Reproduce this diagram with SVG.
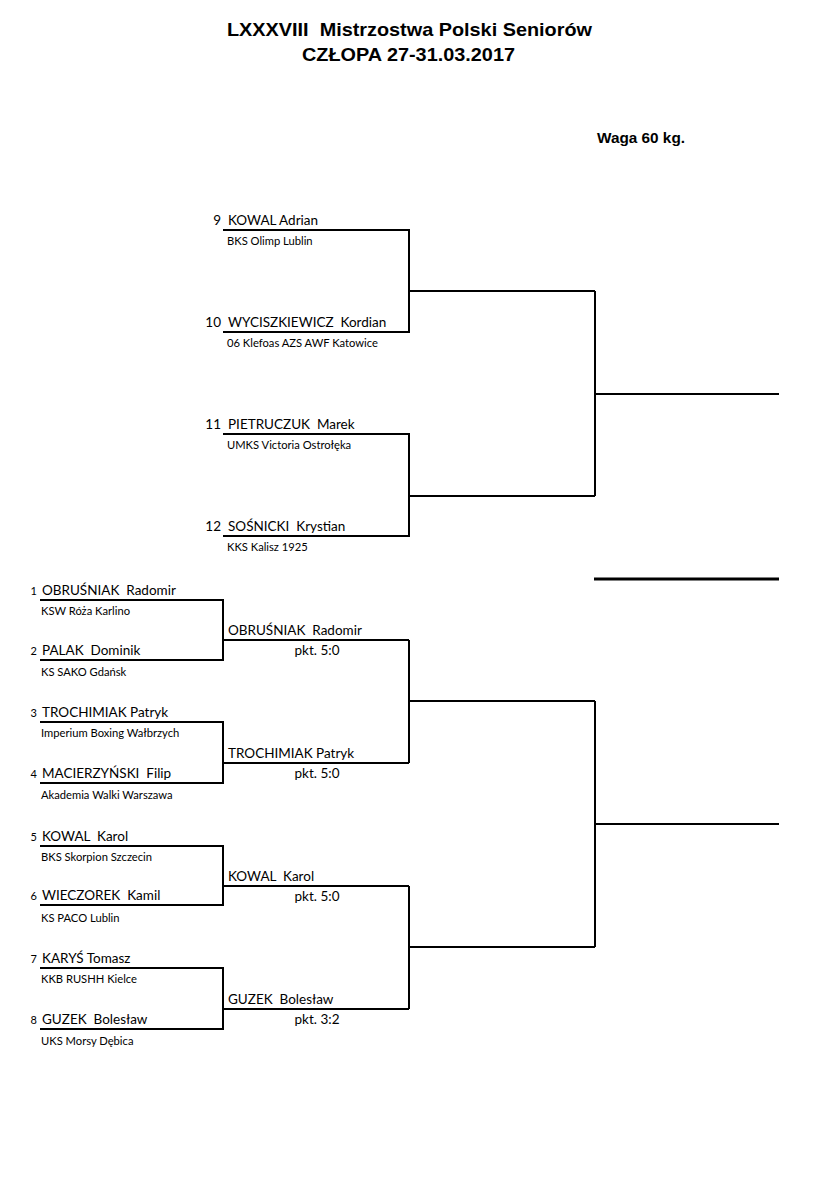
<svg xmlns="http://www.w3.org/2000/svg" width="840" height="1188" viewBox="0 0 840 1188" xml:space="preserve">
<style>
text{white-space:pre}
.t{font-family:"Liberation Sans",Arial,sans-serif;font-weight:bold;fill:#000}
.n{font-family:Lato,"Noto Sans",sans-serif;font-size:13.5px;fill:#000}
.c{font-family:Lato,"Noto Sans",sans-serif;font-size:11.2px;fill:#000}
.s{font-family:Lato,"Noto Sans",sans-serif;font-size:11px;fill:#000}
.p{font-family:Lato,"Noto Sans",sans-serif;font-size:13.5px;fill:#000;text-anchor:middle}
.l{fill:none;stroke:#000;stroke-width:2}
</style>
<rect width="840" height="1188" fill="#fff"/>
<g id="title">
<text class="t" x="227" y="36" font-size="18.5" textLength="365" lengthAdjust="spacingAndGlyphs">LXXXVIII  Mistrzostwa Polski Seniorów</text>
<text class="t" x="302" y="61" font-size="18.5" textLength="213" lengthAdjust="spacingAndGlyphs">CZŁOPA 27-31.03.2017</text>
<text class="t" x="597" y="143" font-size="15" textLength="88" lengthAdjust="spacingAndGlyphs">Waga 60 kg.</text>
</g>
<g id="connectors">
<path class="l" d="M223 230H409V332H223M409 291H595M223 434H409V536H223M409 496H595M595 291V496M595 394H779"/>
<path d="M594 579H779" stroke="#000" stroke-width="3"/>
<path class="l" d="M40 600H223V660H40M223 640H409M40 722H223V783H40M223 763H409M409 640V763M409 701H595"/>
<path class="l" d="M40 846H223V905H40M223 886H409M40 968H223V1029H40M223 1009H409M409 886V1009M409 947H595"/>
<path class="l" d="M595 701V947M595 824H779"/>
</g>
<g id="p9"><text class="n" x="221" y="225" text-anchor="end">9</text><text class="n" x="228" y="225">KOWAL Adrian</text><text class="c" x="227" y="245">BKS Olimp Lublin</text></g>
<g id="p10"><text class="n" x="221" y="327" text-anchor="end">10</text><text class="n" x="228" y="327">WYCISZKIEWICZ  Kordian</text><text class="c" x="227" y="347">06 Klefoas AZS AWF Katowice</text></g>
<g id="p11"><text class="n" x="221" y="429" text-anchor="end">11</text><text class="n" x="228" y="429">PIETRUCZUK  Marek</text><text class="c" x="227" y="449">UMKS Victoria Ostrołęka</text></g>
<g id="p12"><text class="n" x="221" y="531" text-anchor="end">12</text><text class="n" x="228" y="531">SOŚNICKI  Krystian</text><text class="c" x="227" y="551">KKS Kalisz 1925</text></g>
<g id="p1"><text class="s" x="37" y="595" text-anchor="end">1</text><text class="n" x="42" y="595">OBRUŚNIAK  Radomir</text><text class="c" x="41" y="615">KSW Róża Karlino</text></g>
<g id="p2"><text class="s" x="37" y="655" text-anchor="end">2</text><text class="n" x="42" y="655">PALAK  Dominik</text><text class="c" x="41" y="676">KS SAKO Gdańsk</text></g>
<g id="p3"><text class="s" x="37" y="717" text-anchor="end">3</text><text class="n" x="42" y="717">TROCHIMIAK Patryk</text><text class="c" x="41" y="737">Imperium Boxing Wałbrzych</text></g>
<g id="p4"><text class="s" x="37" y="778" text-anchor="end">4</text><text class="n" x="42" y="778">MACIERZYŃSKI  Filip</text><text class="c" x="41" y="799">Akademia Walki Warszawa</text></g>
<g id="p5"><text class="s" x="37" y="841" text-anchor="end">5</text><text class="n" x="42" y="841">KOWAL  Karol</text><text class="c" x="41" y="861">BKS Skorpion Szczecin</text></g>
<g id="p6"><text class="s" x="37" y="900" text-anchor="end">6</text><text class="n" x="42" y="900">WIECZOREK  Kamil</text><text class="c" x="41" y="922">KS PACO Lublin</text></g>
<g id="p7"><text class="s" x="37" y="963" text-anchor="end">7</text><text class="n" x="42" y="963">KARYŚ Tomasz</text><text class="c" x="41" y="983">KKB RUSHH Kielce</text></g>
<g id="p8"><text class="s" x="37" y="1024" text-anchor="end">8</text><text class="n" x="42" y="1024">GUZEK  Bolesław</text><text class="c" x="41" y="1045">UKS Morsy Dębica</text></g>
<g id="w1"><text class="n" x="228" y="635">OBRUŚNIAK  Radomir</text><text class="p" x="317" y="655">pkt. 5:0</text></g>
<g id="w2"><text class="n" x="228" y="758">TROCHIMIAK Patryk</text><text class="p" x="317" y="778">pkt. 5:0</text></g>
<g id="w3"><text class="n" x="228" y="881">KOWAL  Karol</text><text class="p" x="317" y="901">pkt. 5:0</text></g>
<g id="w4"><text class="n" x="228" y="1004">GUZEK  Bolesław</text><text class="p" x="317" y="1024">pkt. 3:2</text></g>
</svg>
